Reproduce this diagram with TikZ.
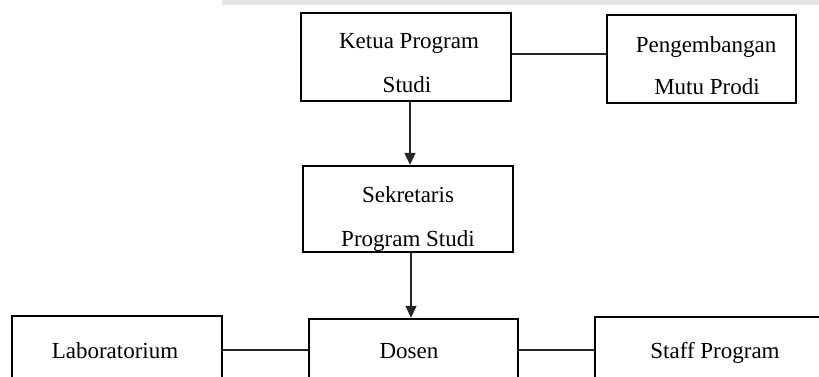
\documentclass[tikz,border=0pt]{standalone}
\usepackage{fontspec}
\setmainfont{Liberation Serif}
\usetikzlibrary{arrows.meta}
\begin{document}
\begin{tikzpicture}[x=1pt,y=-1pt,
  box/.style={draw=black,line width=2.4pt,fill=white,inner sep=0pt},
  lbl/.style={anchor=base,inner sep=0pt,font=\fontsize{23}{27}\selectfont},
  link/.style={draw=black!85,line width=1.5pt},
  arr/.style={link,-{Triangle[width=11pt,length=12pt]}}]
\useasboundingbox (0,0) rectangle (819,377);
\clip (0,0) rectangle (819,377);
% faint watermark band at the top
\fill[black!10!white] (222,0) rectangle (819,5);
% boxes
\node[box,minimum width=210pt,minimum height=88pt] (ketua) at (406,57) {};
\node[box,minimum width=189pt,minimum height=88pt] (peng) at (701.5,59) {};
\node[box,minimum width=210pt,minimum height=86pt] (sek) at (408,209) {};
\node[box,minimum width=210pt,minimum height=100pt] (lab) at (117,366) {};
\node[box,minimum width=209pt,minimum height=100pt] (dosen) at (413.5,369) {};
\node[box,minimum width=255pt,minimum height=100pt] (staff) at (722.5,367) {};
% texts
\node[lbl] (t1) at (409,49) {Ketua Program};
\node[lbl] (t2) at (407,93) {Studi};
\node[lbl] (t3) at (706,53) {Pengembangan};
\node[lbl] (t4) at (707,95) {Mutu Prodi};
\node[lbl] (t5) at (408,202) {Sekretaris};
\node[lbl] (t6) at (408,246) {Program Studi};
\node[lbl] (t7) at (115,358) {Laboratorium};
\node[lbl] (t8) at (409,358) {Dosen};
\node[lbl] (t9) at (715,358) {Staff Program};
% connectors
\draw[link] (ketua.east |- 0,54) -- (peng.west |- 0,54);
\draw[arr] (ketua.south -| 410,0) -- (sek.north -| 410,0);
\draw[arr] (sek.south -| 411,0) -- (dosen.north -| 411,0);
\draw[link] (lab.east |- 0,350) -- (dosen.west |- 0,350);
\draw[link] (dosen.east |- 0,350) -- (staff.west |- 0,350);
\end{tikzpicture}
\end{document}
